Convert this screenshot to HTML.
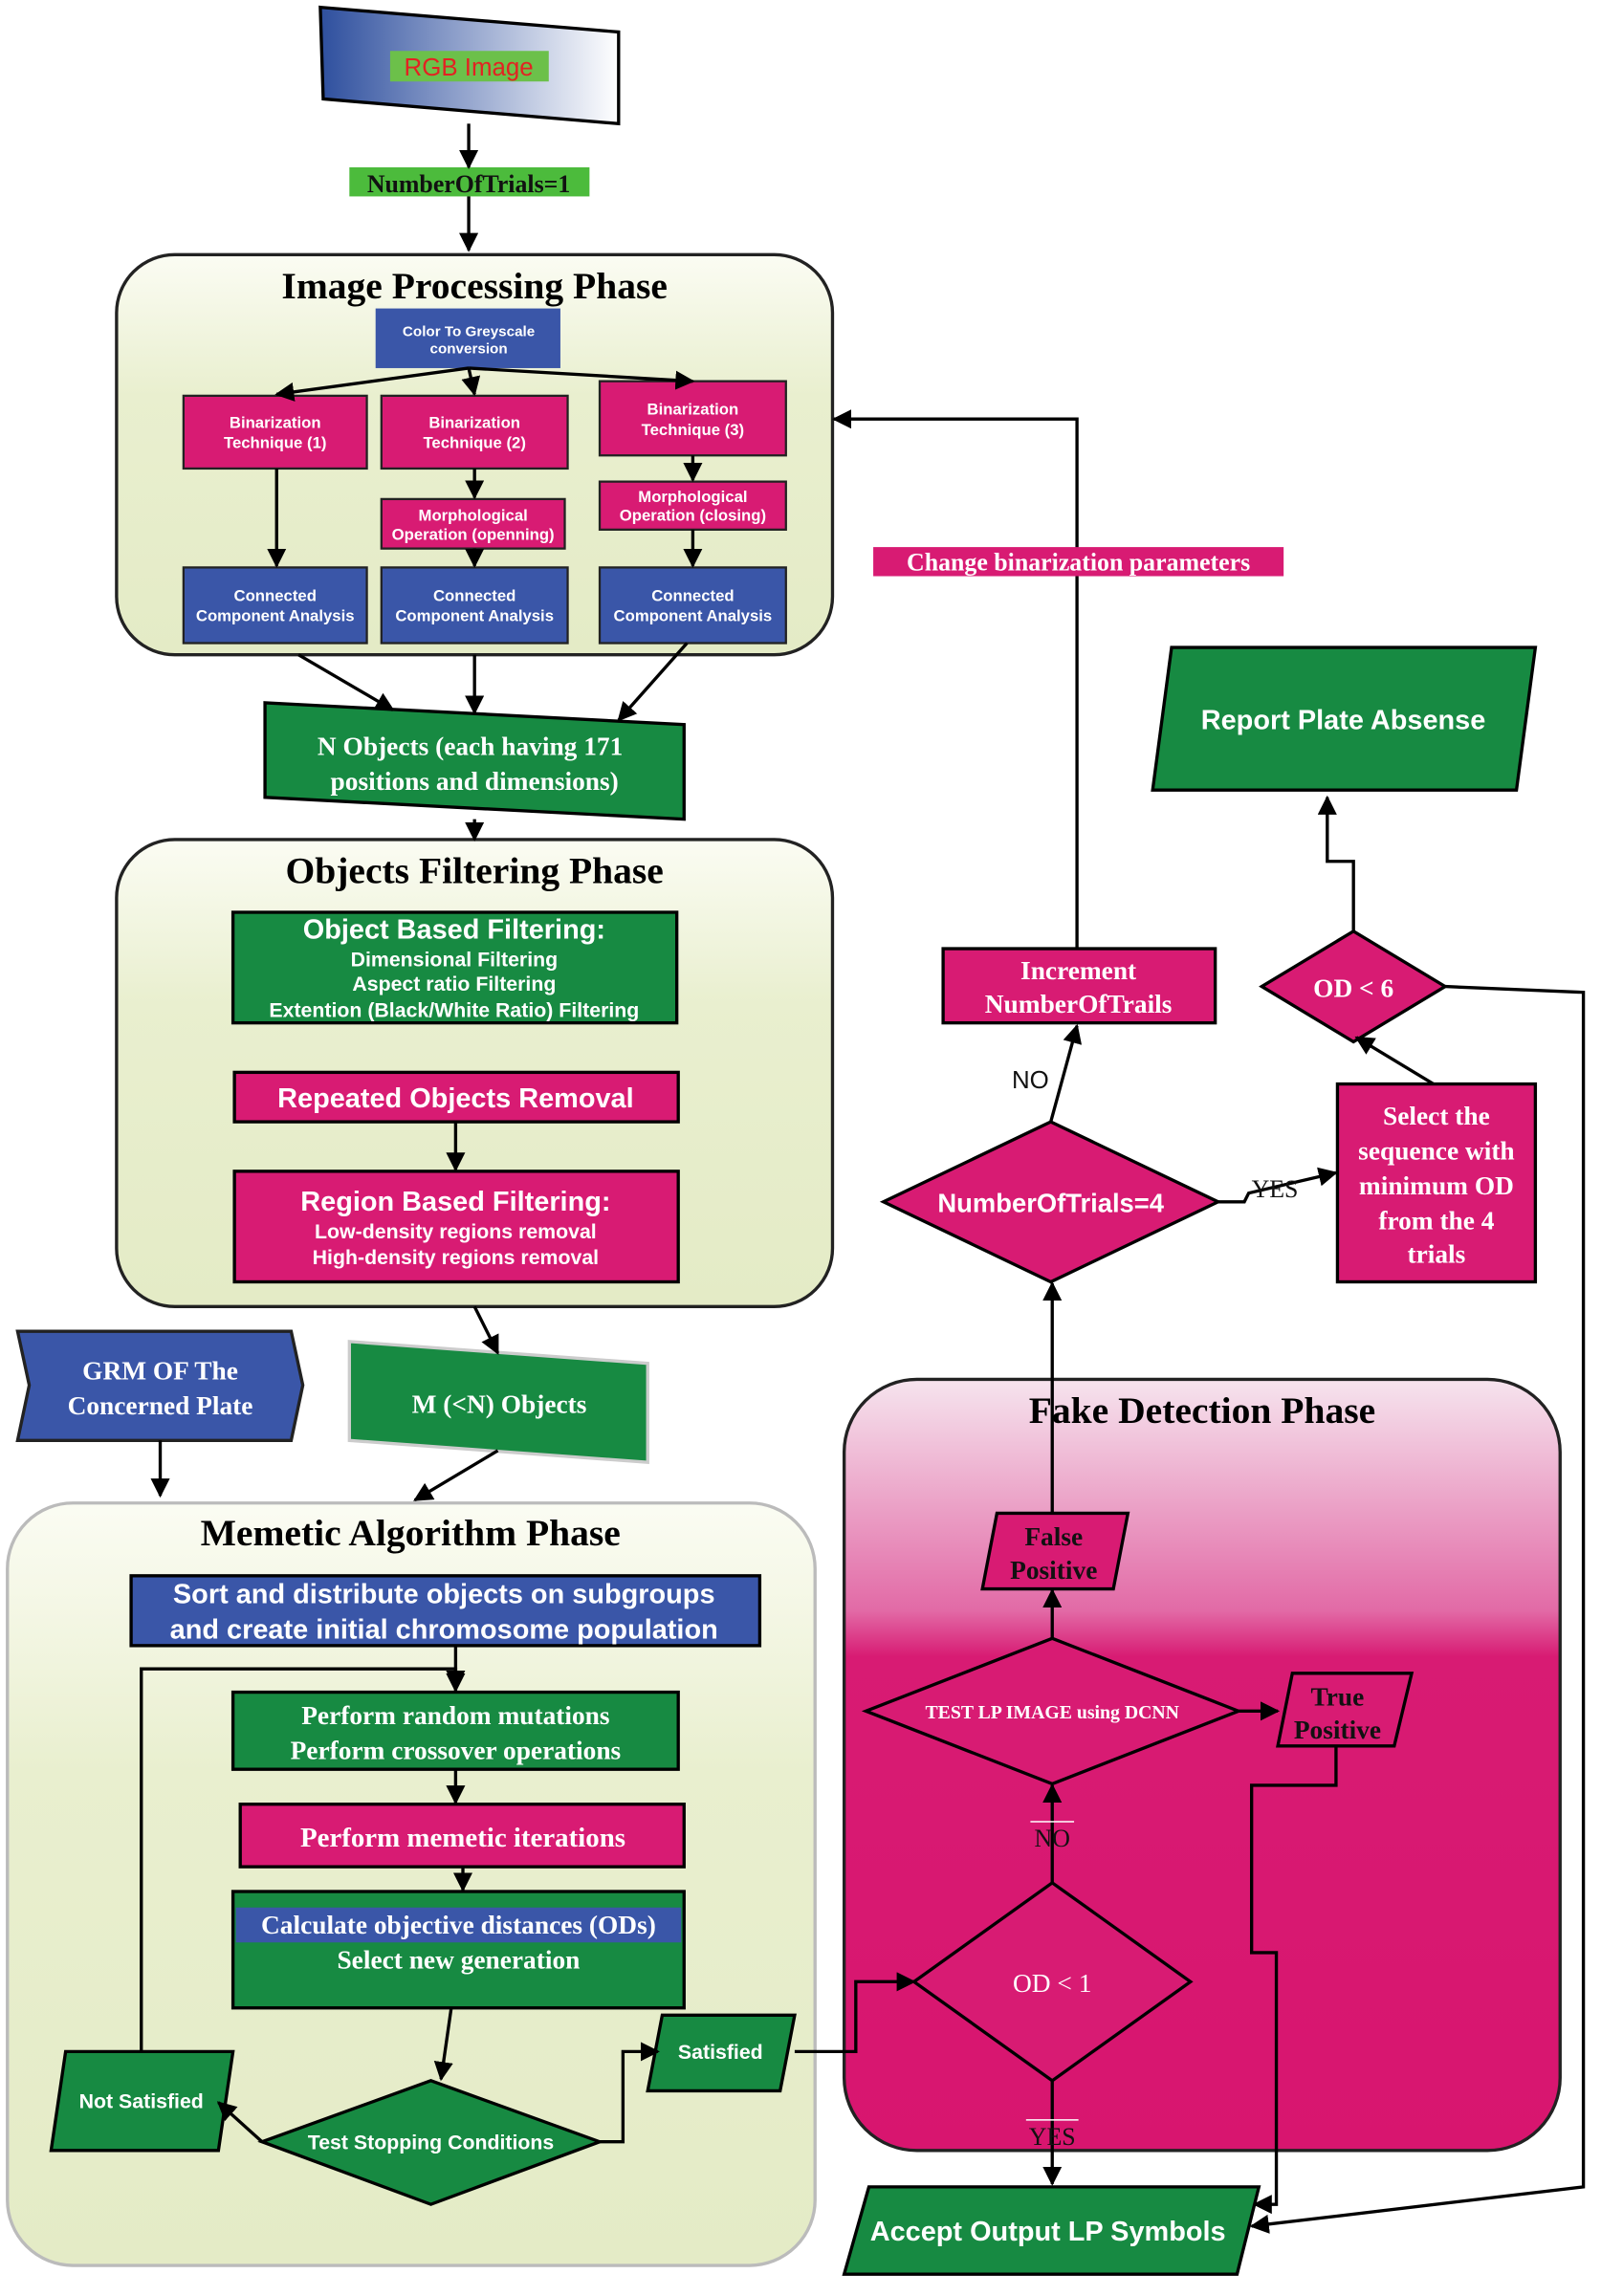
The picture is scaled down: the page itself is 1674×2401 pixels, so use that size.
<!DOCTYPE html>
<html><head><meta charset="utf-8"><style>
html,body{margin:0;padding:0;background:#fff;}
svg{display:block}
.s{font-family:"Liberation Serif",serif;font-weight:bold}
.a{font-family:"Liberation Sans",sans-serif;font-weight:bold}
</style></head><body>
<svg width="1674" height="2401" viewBox="0 0 1100 1578" xmlns="http://www.w3.org/2000/svg">
<defs>
<marker id="ar" viewBox="0 0 10 10" refX="9" refY="5" markerWidth="6" markerHeight="6" orient="auto-start-reverse"><path d="M0,0L10,5L0,10z" fill="#000"/></marker>
<linearGradient id="ph" x1="0" y1="0" x2="0" y2="1"><stop offset="0" stop-color="#fbfcf3"/><stop offset="0.35" stop-color="#e9efcf"/><stop offset="1" stop-color="#e4ebc6"/></linearGradient>
<linearGradient id="fk" x1="0" y1="0" x2="0" y2="1"><stop offset="0" stop-color="#f6e4ee"/><stop offset="0.3" stop-color="#e26aa6"/><stop offset="0.36" stop-color="#d81b73"/><stop offset="1" stop-color="#d8156f"/></linearGradient>
<linearGradient id="rgb" x1="0" y1="0" x2="1" y2="0"><stop offset="0" stop-color="#2e4f9e"/><stop offset="1" stop-color="#ffffff"/></linearGradient>
</defs>
<g stroke="#000" stroke-width="2.2">
<rect x="80" y="175" width="492" height="275" rx="40" fill="url(#ph)" stroke="#222"/>
<rect x="80" y="577" width="492" height="321" rx="40" fill="url(#ph)" stroke="#222"/>
<rect x="5" y="1033" width="555" height="524" rx="45" fill="url(#ph)" stroke="#bbb"/>
<rect x="580" y="948" width="492" height="530" rx="50" fill="url(#fk)" stroke="#222"/>
<polygon points="220,5 425,22 425,85 222,68" fill="url(#rgb)"/>
<rect x="240" y="115" width="165" height="20" fill="#4cbb3c" stroke="none"/>
<rect x="258" y="212" width="127" height="41" fill="#3a56a8" stroke="none"/>
<rect x="126" y="272" width="126" height="50" fill="#d81b73" stroke="#222" stroke-width="1.5"/>
<rect x="262" y="272" width="128" height="50" fill="#d81b73" stroke="#222" stroke-width="1.5"/>
<rect x="412" y="262" width="128" height="51" fill="#d81b73" stroke="#222" stroke-width="1.5"/>
<rect x="262" y="343" width="126" height="34" fill="#d81b73" stroke="#222" stroke-width="1.5"/>
<rect x="412" y="331" width="128" height="33" fill="#d81b73" stroke="#222" stroke-width="1.5"/>
<rect x="126" y="390" width="126" height="52" fill="#3a56a8" stroke="#222" stroke-width="1.5"/>
<rect x="262" y="390" width="128" height="52" fill="#3a56a8" stroke="#222" stroke-width="1.5"/>
<rect x="412" y="390" width="128" height="52" fill="#3a56a8" stroke="#222" stroke-width="1.5"/>
<polygon points="182,483 470,498 470,563 182,548" fill="#178a42"/>
<rect x="160" y="627" width="305" height="76" fill="#178a42"/>
<rect x="161" y="737" width="305" height="34" fill="#d81b73"/>
<rect x="161" y="805" width="305" height="76" fill="#d81b73"/>
<polygon points="12,915 200,915 208,952 200,990 12,990 20,952" fill="#3a56a8" stroke="#222"/>
<polygon points="240,922 445,937 445,1005 240,990" fill="#178a42" stroke="#ccc"/>
<rect x="90" y="1083" width="432" height="48" fill="#3a56a8"/>
<rect x="160" y="1163" width="306" height="53" fill="#178a42"/>
<rect x="165" y="1240" width="305" height="43" fill="#d81b73"/>
<rect x="160" y="1300" width="310" height="80" fill="#178a42"/>
<rect x="162" y="1311" width="306" height="24" fill="#3a56a8" stroke="none"/>
<polygon points="180,1472 296,1430 412,1472 296,1515" fill="#178a42"/>
<polygon points="45,1410 160,1410 150,1478 35,1478" fill="#178a42"/>
<polygon points="455,1385 546,1385 536,1437 445,1437" fill="#178a42"/>
<polygon points="685,1040 775,1040 765,1092 675,1092" fill="#d81b73"/>
<polygon points="595,1176 723,1126 851,1176 723,1226" fill="#d81b73"/>
<polygon points="888,1150 970,1150 958,1200 878,1200" fill="#d81b73"/>
<polygon points="628,1362 723,1294 818,1362 723,1430" fill="#d81b73"/>
<polygon points="597,1503 865,1503 850,1563 580,1563" fill="#178a42"/>
<polygon points="607,826 722,771 837,826 722,881" fill="#d81b73"/>
<rect x="648" y="652" width="187" height="51" fill="#d81b73"/>
<rect x="919" y="745" width="136" height="136" fill="#d81b73"/>
<polygon points="867,678 930,640 993,678 930,716" fill="#d81b73"/>
<polygon points="805,445 1055,445 1042,543 792,543" fill="#178a42"/>
</g>
<g stroke="#000" stroke-width="2.2" fill="none" marker-end="url(#ar)">
<line x1="322" y1="85" x2="322" y2="115" marker-end=""/>
<line x1="322" y1="135" x2="322" y2="172"/>
<line x1="322" y1="253" x2="190" y2="271"/>
<line x1="322" y1="253" x2="326" y2="271"/>
<line x1="322" y1="253" x2="476" y2="262"/>
<line x1="190" y1="322" x2="190" y2="389"/>
<line x1="326" y1="322" x2="326" y2="342"/>
<line x1="326" y1="377" x2="326" y2="389"/>
<line x1="476" y1="313" x2="476" y2="330"/>
<line x1="476" y1="364" x2="476" y2="389"/>
<line x1="205" y1="450" x2="270" y2="488"/>
<line x1="326" y1="450" x2="326" y2="490"/>
<line x1="472" y1="442" x2="425" y2="495"/>
<line x1="326" y1="563" x2="326" y2="577"/>
<line x1="313" y1="771" x2="313" y2="804"/>
<line x1="326" y1="898" x2="342" y2="930"/>
<line x1="110" y1="990" x2="110" y2="1028"/>
<line x1="342" y1="997" x2="285" y2="1031"/>
<line x1="313" y1="1131" x2="313" y2="1162"/>
<line x1="313" y1="1216" x2="313" y2="1239"/>
<line x1="318" y1="1283" x2="318" y2="1299"/>
<line x1="310" y1="1380" x2="303" y2="1429"/>
<polyline points="180,1472 150,1445"/>
<polyline points="97,1410 97,1147 313,1147 313,1160"/>
<polyline points="412,1472 428,1472 428,1410 452,1410"/>
<polyline points="546,1410 588,1410 588,1362 628,1362"/>
<line x1="723" y1="1294" x2="723" y2="1227"/>
<line x1="723" y1="1430" x2="723" y2="1501"/>
<line x1="723" y1="1126" x2="723" y2="1093"/>
<line x1="851" y1="1176" x2="878" y2="1176"/>
<line x1="723" y1="1040" x2="723" y2="882"/>
<line x1="722" y1="771" x2="740" y2="705"/>
<polyline points="740,652 740,288 573,288"/>
<polyline points="837,826 855,826 858,820 918,806"/>
<line x1="985" y1="745" x2="932" y2="713"/>
<polyline points="930,640 930,592 912,592 912,548"/>
<polyline points="993,678 1088,682 1088,1503 860,1530"/>
<polyline points="918,1200 918,1227 860,1227 860,1342 877,1342 877,1515 862,1515"/>
</g>
<rect x="600" y="376" width="282" height="20" fill="#d81b73"/>
<rect x="268" y="35" width="109" height="21" fill="#6cc04a"/>
<text x="322" y="52" font-family="Liberation Sans,sans-serif" font-size="17" fill="#e32222" text-anchor="middle">RGB Image</text>
<text x="322" y="132" class="s" font-size="17" text-anchor="middle" fill="#111">NumberOfTrials=1</text>
<text x="326" y="205" class="s" font-size="26" text-anchor="middle">Image Processing Phase</text>
<g class="a" font-size="10" fill="#fff" text-anchor="middle">
<text x="322" y="231">Color To Greyscale</text><text x="322" y="243">conversion</text>
<text x="189" y="294" font-size="11">Binarization</text><text x="189" y="308" font-size="11">Technique (1)</text>
<text x="326" y="294" font-size="11">Binarization</text><text x="326" y="308" font-size="11">Technique (2)</text>
<text x="476" y="285" font-size="11">Binarization</text><text x="476" y="299" font-size="11">Technique (3)</text>
<text x="325" y="358" font-size="11">Morphological</text><text x="325" y="371" font-size="11">Operation (openning)</text>
<text x="476" y="345" font-size="11">Morphological</text><text x="476" y="358" font-size="11">Operation (closing)</text>
<text x="189" y="413" font-size="11">Connected</text><text x="189" y="427" font-size="11">Component Analysis</text>
<text x="326" y="413" font-size="11">Connected</text><text x="326" y="427" font-size="11">Component Analysis</text>
<text x="476" y="413" font-size="11">Connected</text><text x="476" y="427" font-size="11">Component Analysis</text>
</g>
<g class="s" fill="#fff" text-anchor="middle">
<text x="323" y="519" font-size="18">N Objects (each having 171</text>
<text x="326" y="543" font-size="18">positions and dimensions)</text>
</g>
<text x="326" y="607" class="s" font-size="26" text-anchor="middle">Objects Filtering Phase</text>
<g class="a" fill="#fff" text-anchor="middle">
<text x="312" y="645" font-size="19">Object Based Filtering:</text>
<text x="312" y="664" font-size="14">Dimensional Filtering</text>
<text x="312" y="681" font-size="14">Aspect ratio Filtering</text>
<text x="312" y="699" font-size="14">Extention (Black/White Ratio) Filtering</text>
<text x="313" y="761" font-size="19">Repeated Objects Removal</text>
<text x="313" y="832" font-size="19">Region Based Filtering:</text>
<text x="313" y="851" font-size="14">Low-density regions removal</text>
<text x="313" y="869" font-size="14">High-density regions removal</text>
</g>
<g class="s" fill="#fff" text-anchor="middle">
<text x="110" y="948" font-size="18">GRM OF The</text>
<text x="110" y="972" font-size="18">Concerned Plate</text>
<text x="343" y="971" font-size="18">M  (&lt;N) Objects</text>
</g>
<text x="282" y="1062" class="s" font-size="26" text-anchor="middle">Memetic Algorithm Phase</text>
<g class="a" fill="#fff" text-anchor="middle" font-size="19">
<text x="305" y="1102">Sort and distribute objects on subgroups</text>
<text x="305" y="1126">and create initial chromosome population</text>
</g>
<g class="s" fill="#fff" text-anchor="middle" font-size="18">
<text x="313" y="1185">Perform random mutations</text>
<text x="313" y="1209">Perform crossover operations</text>
<text x="318" y="1269" font-size="19">Perform memetic iterations</text>
<text x="315" y="1329">Calculate objective distances (ODs)</text>
<text x="315" y="1353">Select new generation</text>
</g>
<g class="a" fill="#fff" text-anchor="middle" font-size="14">
<text x="296" y="1477">Test Stopping Conditions</text>
<text x="97" y="1449">Not Satisfied</text>
<text x="495" y="1415">Satisfied</text>
</g>
<text x="826" y="978" class="s" font-size="26" text-anchor="middle">Fake Detection Phase</text>
<g class="s" text-anchor="middle" font-size="18" fill="#111">
<text x="724" y="1062">False</text><text x="724" y="1085">Positive</text>
<text x="919" y="1172">True</text><text x="919" y="1195">Positive</text>
</g>
<text x="723" y="1181" class="s" font-size="13" fill="#fff" text-anchor="middle">TEST LP IMAGE using DCNN</text>
<text x="723" y="1369" font-family="Liberation Serif,serif" font-size="18" fill="#fff" text-anchor="middle">OD &lt; 1</text>
<text x="723" y="1269" font-family="Liberation Serif,serif" font-size="17" fill="#111" text-anchor="middle">NO</text>
<line x1="708" y1="1252" x2="738" y2="1252" stroke="#fff"/>
<text x="723" y="1474" font-family="Liberation Serif,serif" font-size="17" fill="#111" text-anchor="middle">YES</text>
<line x1="705" y1="1457" x2="741" y2="1457" stroke="#fff"/>
<text x="720" y="1540" class="a" font-size="19" fill="#fff" text-anchor="middle">Accept Output LP Symbols</text>
<text x="722" y="833" class="a" font-size="18" fill="#fff" text-anchor="middle">NumberOfTrials=4</text>
<text x="708" y="748" font-family="Liberation Sans,sans-serif" font-size="17" fill="#111" text-anchor="middle">NO</text>
<text x="876" y="823" font-family="Liberation Serif,serif" font-size="17" fill="#111" text-anchor="middle">YES</text>
<g class="s" fill="#fff" text-anchor="middle" font-size="18">
<text x="741" y="673">Increment</text><text x="741" y="696">NumberOfTrails</text>
<text x="987" y="773">Select the</text><text x="987" y="797">sequence with</text>
<text x="987" y="821">minimum OD</text><text x="987" y="845">from the 4</text><text x="987" y="868">trials</text>
<text x="930" y="685">OD &lt; 6</text>
<text x="741" y="392" font-size="17">Change binarization parameters</text>
</g>
<text x="923" y="501" class="a" font-size="19" fill="#fff" text-anchor="middle">Report Plate Absense</text>
</svg>
</body></html>
